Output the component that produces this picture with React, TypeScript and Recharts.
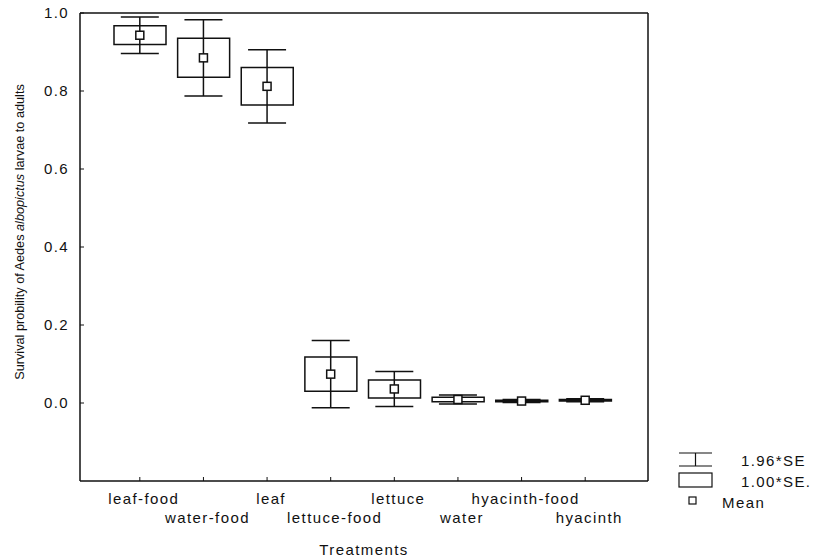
import { ComposedChart, Bar, Scatter, ErrorBar, XAxis, YAxis } from "recharts"

// ─── Data ──────────────────────────────────────────────────────────────────────

const CATEGORIES = [
    "leaf-food",
    "water-food",
    "leaf",
    "lettuce-food",
    "lettuce",
    "water",
    "hyacinth-food",
    "hyacinth",
]

const MEANS = [0.943, 0.885, 0.812, 0.074, 0.036, 0.009, 0.005, 0.007]
const STD_ERRORS = [0.024, 0.05, 0.048, 0.044, 0.023, 0.006, 0.002, 0.002]
const Y_TICKS = [0, 0.2, 0.4, 0.6, 0.8, 1.0]

const DATA = CATEGORIES.map((name, i) => ({
    name,
    mean: MEANS[i],
    box: [MEANS[i] - STD_ERRORS[i], MEANS[i] + STD_ERRORS[i]],
    ci: 1.96 * STD_ERRORS[i],
}))

// ─── Styles ────────────────────────────────────────────────────────────────────

const FONT = "'Liberation Sans', Arial, sans-serif"
const INK = "#111"
const X_PADDING = { left: 28, right: 31 }
const FRAME = { stroke: INK, strokeWidth: 1.5 }

// ─── Ticks ─────────────────────────────────────────────────────────────────────

function XTick({ x, y, payload, index }: any) {
    const lower = index % 2 === 1
    return (
        <g>
            <line x1={x} x2={x} y1={y} y2={y - 4} stroke={INK} strokeWidth={1} />
            <text
                x={x + 4}
                y={y + (lower ? 42 : 23)}
                textAnchor="middle"
                fontSize={15}
                fill={INK}
                style={{ letterSpacing: 1.4 }}
            >
                {payload.value}
            </text>
        </g>
    )
}

function YTick({ x, y, payload }: any) {
    return (
        <g>
            <line x1={x} x2={x + 4} y1={y} y2={y} stroke={INK} strokeWidth={1} />
            <text
                x={x - 11}
                y={y}
                dy="0.36em"
                textAnchor="end"
                fontSize={15}
                fill={INK}
                style={{ letterSpacing: 1.4 }}
            >
                {Number(payload.value).toFixed(1)}
            </text>
        </g>
    )
}

const MeanSquare = ({ cx, cy }: any) => (
    <rect x={cx - 4} y={cy - 4} width={8} height={8} fill="#fff" stroke={INK} strokeWidth={1.5} />
)

const NoShape = () => <g />

// ─── Legend ────────────────────────────────────────────────────────────────────

function ChartLegend() {
    const text = { position: "absolute" as const, fontSize: 15, letterSpacing: 1.4, color: INK, lineHeight: "15px" }
    return (
        <div style={{ position: "absolute", left: 0, top: 0 }}>
            <svg style={{ position: "absolute", left: 676, top: 448 }} width={40} height={70}>
                <line x1={3} x2={36} y1={5} y2={5} stroke={INK} strokeWidth={1.2} />
                <line x1={3} x2={36} y1={18} y2={18} stroke={INK} strokeWidth={1.2} />
                <line x1={19.5} x2={19.5} y1={5} y2={18} stroke={INK} strokeWidth={1.2} />
                <rect x={3} y={25} width={33} height={14} fill="#fff" stroke={INK} strokeWidth={1.2} />
                <rect x={13} y={49} width={7} height={7} fill="#fff" stroke={INK} strokeWidth={1.2} />
            </svg>
            <span style={{ ...text, left: 741, top: 453 }}>1.96*SE</span>
            <span style={{ ...text, left: 741, top: 474 }}>1.00*SE.</span>
            <span style={{ ...text, left: 722, top: 495 }}>Mean</span>
        </div>
    )
}

// ─── Component ─────────────────────────────────────────────────────────────────

export default function App() {
    return (
        <div
            style={{
                position: "absolute",
                left: 0,
                top: 0,
                width: 815,
                height: 557,
                background: "#fff",
                fontFamily: FONT,
            }}
        >
            <ComposedChart
                width={815}
                height={557}
                data={DATA}
                margin={{ top: 12, right: 166, bottom: 0, left: 0 }}
            >
                <XAxis
                    dataKey="name"
                    type="category"
                    height={76}
                    padding={X_PADDING}
                    interval={0}
                    tickLine={false}
                    tickSize={0}
                    tickMargin={0}
                    tick={XTick}
                    axisLine={FRAME}
                    label={{
                        value: "Treatments",
                        position: "insideBottom",
                        offset: 2,
                        fontSize: 15,
                        fill: INK,
                        style: { letterSpacing: 1.4 },
                    }}
                />
                <XAxis
                    xAxisId="top"
                    dataKey="name"
                    orientation="top"
                    height={1}
                    padding={X_PADDING}
                    tick={false}
                    tickLine={false}
                    axisLine={FRAME}
                />
                <YAxis
                    type="number"
                    width={80}
                    domain={[-0.2, 1]}
                    ticks={Y_TICKS}
                    allowDataOverflow
                    tickLine={false}
                    tickSize={0}
                    tickMargin={0}
                    tick={YTick}
                    axisLine={FRAME}
                />
                <YAxis
                    yAxisId="right"
                    orientation="right"
                    width={1}
                    domain={[-0.2, 1]}
                    tick={false}
                    tickLine={false}
                    axisLine={FRAME}
                />
                <Scatter dataKey="mean" shape={NoShape} isAnimationActive={false}>
                    <ErrorBar dataKey="ci" direction="y" width={19} stroke={INK} strokeWidth={1.5} />
                </Scatter>
                <Bar
                    dataKey="box"
                    barSize={52}
                    fill="#fff"
                    stroke={INK}
                    strokeWidth={1.5}
                    isAnimationActive={false}
                />
                <Scatter dataKey="mean" shape={MeanSquare} isAnimationActive={false} />
            </ComposedChart>
            <div
                style={{
                    position: "absolute",
                    left: 20,
                    top: 232,
                    transform: "translate(-50%, -50%) rotate(-90deg)",
                    whiteSpace: "nowrap",
                    fontSize: 12.7,
                    color: INK,
                }}
            >
                Survival probility of Aedes <i>albopictus</i> larvae to adults
            </div>
            <ChartLegend />
        </div>
    )
}
